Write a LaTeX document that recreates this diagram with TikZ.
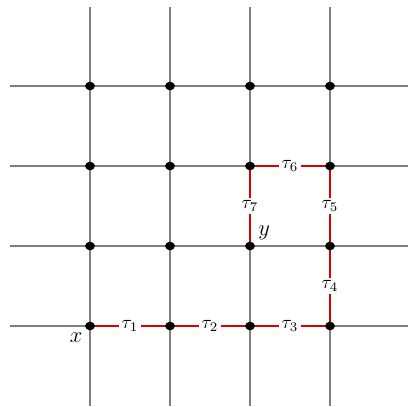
\documentclass[tikz,border=0pt]{standalone}
\usepackage{amsmath}
\usepackage{amssymb}
\usetikzlibrary{shapes.geometric, positioning}

\begin{document}
\begin{tikzpicture}[
        x=1.5cm, y=1.5cm,
        grid/.style={draw=gray, line width=0.8pt},
        walk/.style={draw=red!85!black, line width=0.9pt},
        vertex/.style={ellipse, fill=black, inner sep=0pt, minimum width=5.2pt, minimum height=4.6pt},
        lbl/.style={fill=white, inner sep=1.2pt}
    ]
        \useasboundingbox (-1.125,-1) rectangle (3.975,4.075);
        % Grid
        \foreach \i in {0,...,3} {
            \draw[grid] (\i,-1) -- (\i,3.99);
            \draw[grid] (-1,\i) -- (3.975,\i);
        }
        \foreach \i in {0,...,3}
            \foreach \j in {0,...,3}
                \coordinate (v-\i-\j) at (\i,\j);
        % Path
        \draw[walk] (v-0-0) -- node[lbl] {$\tau_1$} (v-1-0);
        \draw[walk] (v-1-0) -- node[lbl] {$\tau_2$} (v-2-0);
        \draw[walk] (v-2-0) -- node[lbl] {$\tau_3$} (v-3-0);
        \draw[walk] (v-3-0) -- node[lbl] {$\tau_4$} (v-3-1);
        \draw[walk] (v-3-1) -- node[lbl] {$\tau_5$} (v-3-2);
        \draw[walk] (v-3-2) -- node[lbl] {$\tau_6$} (v-2-2);
        \draw[walk] (v-2-2) -- node[lbl] {$\tau_7$} (v-2-1);
        % Vertices
        \foreach \i in {0,...,3}
            \foreach \j in {0,...,3}
                \node[vertex] (n-\i-\j) at (v-\i-\j) {};
        \node[below left=-1.5pt and -1.5pt of n-0-0] (x) {\large $x$};
        \node[above right=-2pt and -1pt of n-2-1] (y) {\large $y$};
    \end{tikzpicture}
\end{document}
